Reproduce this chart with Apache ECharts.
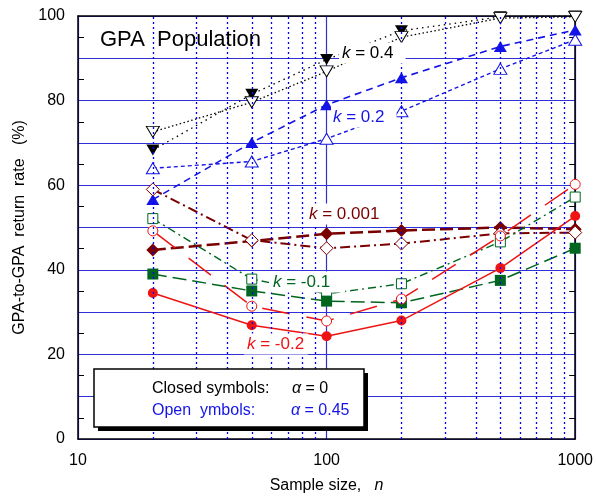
<!DOCTYPE html>
<html><head><meta charset="utf-8">
<script src="https://cdn.jsdelivr.net/npm/echarts@6/dist/echarts.min.js"></script>
<style>html,body{margin:0;padding:0;background:#fff}#c{width:596px;height:499px}</style>
</head><body><div id="c"></div>
<script>
const sampleSizes = [20, 50, 100, 200, 500, 1000];
const k04Closed = [68.3, 81.5, 89.7, 96.5, 99.8, 100];
const k04Open = [72.6, 79.6, 86.9, 95.0, 99.5, 99.8];
const k02Closed = [56.6, 70.1, 79.0, 85.4, 92.8, 96.7];
const k02Open = [64.0, 65.6, 71.0, 77.5, 87.5, 94.4];
const k0001Closed = [44.7, 46.8, 48.5, 49.3, 50.0, 49.6];
const k0001Open = [59.0, 47.0, 45.1, 46.2, 48.6, 48.8];
const km01Closed = [39.0, 35.0, 32.6, 32.2, 37.5, 45.1];
const km01Open = [52.1, 37.8, 34.3, 36.7, 46.6, 57.2];
const km02Closed = [34.5, 26.9, 24.3, 28.0, 40.4, 52.7];
const km02Open = [49.2, 31.4, 27.9, 33.1, 48.0, 60.2];
const minorGridX = [20, 30, 40, 50, 60, 70, 80, 90, 200, 300, 400, 500, 600, 700, 800, 900];
const xTickLabels = [10, 100, 1000];
const yTickLabels = [0, 20, 40, 60, 80, 100];

const FF = '"Liberation Sans", Arial, sans-serif';
const BLUE = '#1414e6', DRED = '#7a0000', GREEN = '#00661f', RED = '#ee1414';

function mk(name, vals, color, symbol, size, dash, width, rotate, open) {
  return {
    name, type: 'line', data: sampleSizes.map((n, i) => [n, vals[i]]),
    symbol, symbolSize: size, symbolRotate: rotate || 0,
    showSymbol: true, clip: false,
    lineStyle: { color, width, type: dash },
    itemStyle: open ? { color: '#fff', borderColor: color, borderWidth: 1 }
                    : { color, borderColor: color, borderWidth: 0 },
    emphasis: { disabled: true }, animation: false
  };
}

const series = [
  mk('k0.4c', k04Closed, '#000', 'triangle', [13, 11], [1.5, 4], 1.3, 180, false),
  mk('k0.4o', k04Open, '#000', 'triangle', [13, 11], [1.5, 2.5], 1.3, 180, true),
  mk('k0.2c', k02Closed, BLUE, 'triangle', [13, 11], [7, 5], 1.6, 0, false),
  mk('k0.2o', k02Open, BLUE, 'triangle', [13, 11], [4, 3], 1.4, 0, true),
  mk('k0.001c', k0001Closed, DRED, 'diamond', [13, 13], [13, 5], 2.5, 0, false),
  mk('k0.001o', k0001Open, DRED, 'diamond', [13, 13], [10, 4, 2, 4], 2, 0, true),
  mk('k-0.1o', km01Open, GREEN, 'rect', [10, 10], [8, 4, 2, 4], 1.4, 0, true),
  mk('k-0.1c', km01Closed, GREEN, 'rect', [11, 11], [14, 6], 1.5, 0, false),
  mk('k-0.2o', km02Open, RED, 'circle', [10, 10], [28, 17], 1.5, 0, true),
  mk('k-0.2c', km02Closed, RED, 'circle', [10, 10], 'solid', 1.5, 0, false)
];
series[0].markLine = {
  silent: true, symbol: 'none', animation: false, label: { show: false },
  lineStyle: { color: '#0000ff', type: [2, 3], width: 1.3 },
  data: minorGridX.map(v => ({ xAxis: v }))
};
series.forEach(s => s.z = 3);

function kLabel(txt, x, y, color, pad) {
  return {
    type: 'text', x, y, z: 10,
    style: {
      text: '{i|k} = ' + txt, fill: color, fontSize: 17, fontFamily: FF,
      verticalAlign: 'middle', backgroundColor: '#fff', padding: pad,
      rich: { i: { fontStyle: 'italic', fontSize: 17, fontFamily: FF, fill: color } }
    }
  };
}

const option = {
  backgroundColor: '#fff', animation: false,
  grid: { left: 78, right: 18, top: 16, bottom: 57 },
  xAxis: [{
    type: 'log', logBase: 10, min: 10, max: 1000, position: 'bottom',
    axisLine: { show: true, lineStyle: { color: '#000', width: 1.5 } },
    axisTick: { show: false },
    axisLabel: { fontSize: 16, fontFamily: FF, color: '#000', margin: 14,
      formatter: v => { const r = Math.round(v); return xTickLabels.includes(r) ? String(r) : ''; } },
    splitLine: { show: true, lineStyle: { color: '#3030d8', width: 1.2 } },
    name: 'Sample size,   {i|n}', nameLocation: 'middle', nameGap: 39,
    nameTextStyle: { fontSize: 16, fontFamily: FF, color: '#000',
      rich: { i: { fontStyle: 'italic', fontSize: 16, fontFamily: FF, color: '#000' } } }
  }, {
    type: 'log', logBase: 10, min: 10, max: 1000, position: 'top',
    axisLine: { show: true, onZero: false, lineStyle: { color: '#000', width: 1.5 } },
    axisTick: { show: false }, axisLabel: { show: false }, splitLine: { show: false }
  }],
  yAxis: [{
    type: 'value', min: 0, max: 100, interval: 10, position: 'left',
    axisLine: { show: true, lineStyle: { color: '#000', width: 1.5 } },
    axisTick: { show: false, inside: true },
    minorTick: { show: true, splitNumber: 2, length: 6, lineStyle: { color: '#000', width: 1 } },
    axisLabel: { fontSize: 16, fontFamily: FF, color: '#000', margin: 13,
      formatter: v => yTickLabels.includes(v) ? String(v) : '' },
    splitLine: { show: true, lineStyle: { color: '#3030d8', width: 1.2 } },
    name: 'GPA-to-GPA  return  rate   (%)', nameLocation: 'middle', nameGap: 50,
    nameTextStyle: { fontSize: 16, fontFamily: FF, color: '#000' }
  }, {
    type: 'value', min: 0, max: 100, interval: 10, position: 'right',
    axisLine: { show: true, lineStyle: { color: '#000', width: 1.5 } },
    axisTick: { show: false, inside: true },
    minorTick: { show: true, splitNumber: 2, length: 6, lineStyle: { color: '#000', width: 1 } },
    axisLabel: { show: false }, splitLine: { show: false }
  }],
  series,
  graphic: [
    { type: 'text', x: 100, y: 40, z: 10,
      style: { text: 'GPA  Population', fill: '#000', fontSize: 22, fontFamily: FF, verticalAlign: 'middle' } },
    kLabel('0.4', 339, 53, '#000', [2, 12, 2, 3]),
    kLabel('0.2', 331, 117, BLUE, [2, 12, 2, 2]),
    kLabel('0.001', 307, 214, DRED, [2, 4, 2, 2]),
    kLabel('-0.1', 269, 282, GREEN, [2, 15, 2, 4]),
    kLabel('-0.2', 244, 344, RED, [2, 4, 2, 3]),
    { type: 'rect', z: 10, shape: { x: 98, y: 373, width: 270, height: 58 },
      style: { fill: '#000', stroke: null } },
    { type: 'rect', z: 10, shape: { x: 94, y: 369, width: 270, height: 58 },
      style: { fill: '#fff', stroke: '#000', lineWidth: 1.5 } },
    { type: 'text', x: 152, y: 389, z: 11,
      style: { text: 'Closed symbols:', fill: '#000', fontSize: 16, fontFamily: FF, verticalAlign: 'middle' } },
    { type: 'text', x: 292, y: 389, z: 11,
      style: { text: '{a|α} = 0', fill: '#000', fontSize: 16, fontFamily: FF, verticalAlign: 'middle',
        rich: { a: { fontStyle: 'italic', fontSize: 16, fontFamily: FF, fill: '#000' } } } },
    { type: 'text', x: 152, y: 411, z: 11,
      style: { text: 'Open  ymbols:', fill: BLUE, fontSize: 16, fontFamily: FF, verticalAlign: 'middle' } },
    { type: 'text', x: 291, y: 411, z: 11,
      style: { text: '{a|α} = 0.45', fill: BLUE, fontSize: 16, fontFamily: FF, verticalAlign: 'middle',
        rich: { a: { fontStyle: 'italic', fontSize: 16, fontFamily: FF, fill: BLUE } } } }
  ]
};
const chart = echarts.init(document.getElementById('c'), null, { renderer: 'canvas' });
chart.setOption(option);
</script></body></html>
